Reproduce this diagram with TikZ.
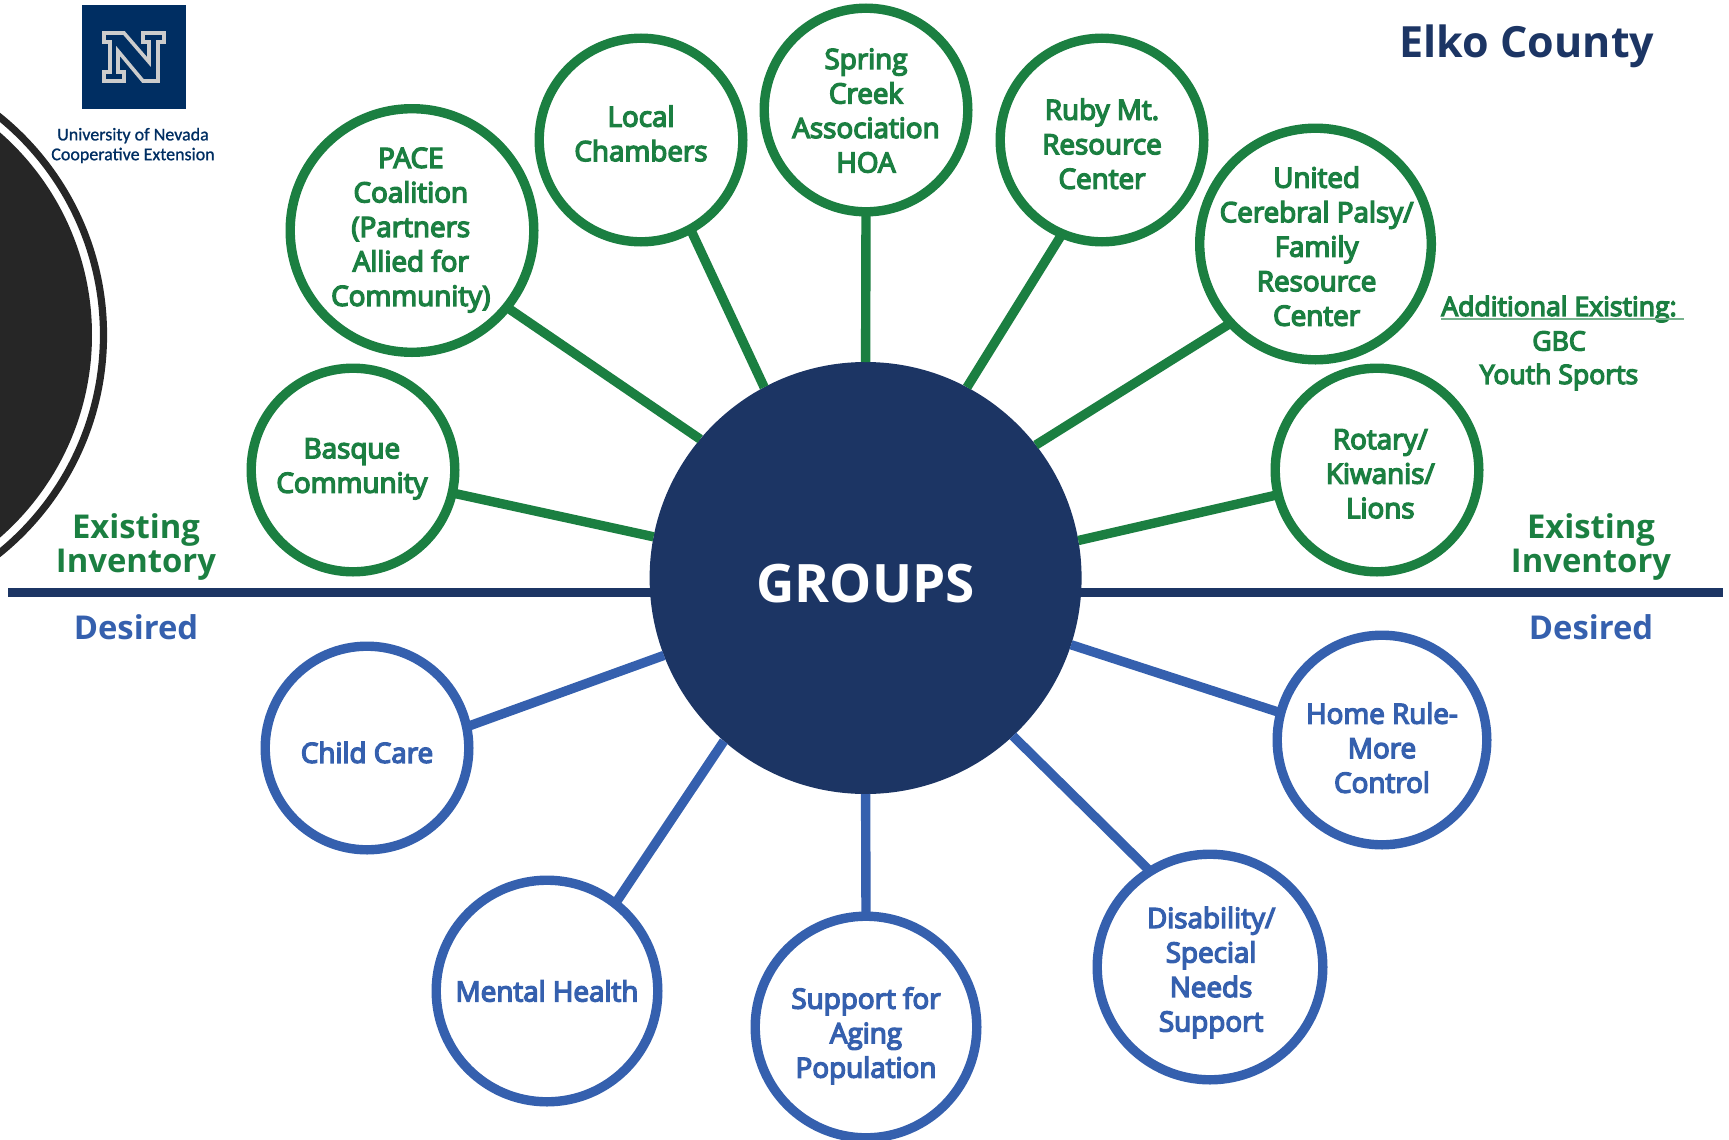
\documentclass[tikz,border=0pt]{standalone}
\usepackage{fontspec}
\setmainfont{Open Sans}
\newfontfamily\lbl[FakeBold=5]{Open Sans}
\newfontfamily\logofont[FakeBold=1]{Carlito}
\usetikzlibrary{calc}
\definecolor{gr}{HTML}{1B7F41}
\definecolor{bl}{HTML}{3560AE}
\definecolor{nv}{HTML}{1C3564}
\definecolor{lg}{HTML}{002E62}
\definecolor{dk}{HTML}{262626}
\tikzset{
 x=0.5pt,y=-0.5pt,
 bub/.style={circle,draw,line width=4.7pt,fill=white,inner sep=0pt,outer sep=0pt,minimum size=#1*1pt-3.2pt},
 gb/.style={bub=#1,draw=gr},
 bb/.style={bub=#1,draw=bl},
 glink/.style={draw=gr,line width=4.7pt},
 blink/.style={draw=bl,line width=4.7pt},
 head/.style={align=center,inner sep=0pt,font=\bfseries\fontsize{16.4}{17.25}\selectfont},
 note/.style={inner sep=0pt,text=gr,font=\lbl\fontsize{13.3}{17.25}\selectfont},
 every label/.style={inner sep=0pt,align=center,font=\lbl\fontsize{13.9}{17.25}\selectfont},
}
\begin{document}
\begin{tikzpicture}
\useasboundingbox (0,0) rectangle (1729,1140);
\begin{scope}
\clip (0,0) rectangle (1729,1140);
\fill[dk] (-177,335) circle (134.5pt);
\draw[dk,line width=3.6pt] (-177,335) circle (140.25pt);
\end{scope}
\fill[lg] (82,5) rectangle (186,109);
\draw[fill=lg,draw=black!20,line width=1.8pt] (104,33)--(124,33)--(149,62)--(149,42)--(143,42)--(143,33)--(164,33)--(164,42)--(158,42)--(158,81)--(143,81)--(118,51)--(118,72)--(124,72)--(124,81)--(104,81)--(104,72)--(110,72)--(110,42)--(104,42)--cycle;
\node[inner sep=0pt,align=center,text=lg,font=\logofont\fontsize{9}{9.9}\selectfont] (logotext) at (133,145.5) {University of Nevada\\Cooperative Extension};
\coordinate (dl) at (8,592.5); \coordinate (dr) at (1723,592.5);
\draw[nv,line width=4.5pt] (dl)--(dr);
\begin{scope}[every label/.append style={text=gr}]
\node[gb=105,label={[xshift=-.55pt,yshift=.55pt]center:{Basque\\Community}}] (basque) at (353,470) {};
\node[gb=125,label={[xshift=-.6pt,yshift=.2pt]center:{PACE\\Coalition\\(Partners\\Allied for\\Community)}}] (pace) at (412,230.5) {};
\node[gb=105,label={[yshift=3.3pt]center:{Local\\Chambers}}] (local) at (641,140) {};
\node[gb=105,label={[yshift=-.3pt]center:{Spring\\Creek\\Association\\HOA}}] (spring) at (866,110) {};
\node[gb=105,label={[yshift=-1.9pt]center:{Ruby Mt.\\Resource\\Center}}] (ruby) at (1102,140) {};
\node[gb=119,label={[xshift=.55pt,yshift=-1.1pt]center:{United\\Cerebral Palsy/\\Family\\Resource\\Center}}] (united) at (1315.5,244) {};
\node[gb=105,label={[xshift=1.65pt,yshift=-1.9pt]center:{Rotary/\\Kiwanis/\\Lions}}] (rotary) at (1377,470) {};
\end{scope}
\begin{scope}[every label/.append style={text=bl}]
\node[bb=105,label={[yshift=-2.2pt]center:{Child Care}}] (child) at (367,748) {};
\node[bb=114,label={center:{Mental Health}}] (mental) at (547,991) {};
\node[bb=114,label={[yshift=-4.4pt]center:{Support for\\Aging\\Population}}] (aging) at (866,1027) {};
\node[bb=116,label={[xshift=.55pt,yshift=-2.75pt]center:{Disability/\\Special\\Needs\\Support}}] (dis) at (1210,967) {};
\node[bb=108,label={[yshift=-3.85pt]center:{Home Rule-\\More\\Control}}] (home) at (1382,740) {};
\end{scope}
\node[circle,fill=nv,inner sep=0pt,outer sep=0pt,minimum size=216pt,label={[yshift=-2.75pt,text=white,font=\fontsize{26.5}{30}\selectfont\bfseries]center:GROUPS}] (hub) at (865.6,578) {};
\draw[glink] (hub.169.4)--(basque.-13.9);
\draw[glink] (hub.140.2)--(pace.-39.7);
\draw[glink] (hub.118)--(local.-61.6);
\draw[glink] (hub.90)--(spring.270);
\draw[glink] (hub.62)--(ruby.247);
\draw[glink] (hub.38.8)--(united.223);
\draw[glink] (hub.10.6)--(rotary.194);
\draw[blink] (hub.201.5)--(child.12.9);
\draw[blink] (hub.229.8)--(mental.52.9);
\draw[blink] (hub.270)--(aging.90);
\draw[blink] (hub.313.9)--(dis.122);
\draw[blink] (hub.342.2)--(home.165);
\node[head,text=gr] (exl) at (136,547) {Existing\\Inventory};
\node[head,text=gr] (exr) at (1591,547) {Existing\\Inventory};
\node[head,text=bl] (del) at (136,627) {Desired};
\node[head,text=bl] (der) at (1591,627) {Desired};
\node[inner sep=0pt,text=nv,font=\bfseries\fontsize{21.5}{24}\selectfont] (elko) at (1527,46) {Elko County};
\node[note] (addl) at (1559,309) {Additional Existing:};
\node[note] (gbc) at (1559,341) {GBC};
\node[note] (youth) at (1559,377) {Youth Sports};
\coordinate (ua) at (1441,319); \coordinate (ub) at (1684,319);
\draw[gr!60,line width=1pt] (ua)--(ub);
\end{tikzpicture}
\end{document}
